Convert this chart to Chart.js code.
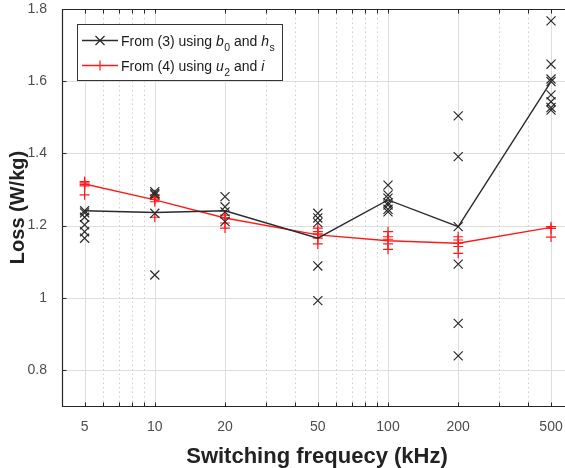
<!DOCTYPE html>
<html>
<head>
<meta charset="utf-8">
<script src="https://cdn.jsdelivr.net/npm/chart.js@4/dist/chart.umd.min.js"></script>
<style>
  html, body { margin: 0; padding: 0; background: #fff; }
  #wrap { width: 565px; height: 468px; position: relative; }
</style>
</head>
<body>
<div id="wrap"><canvas id="c" width="565" height="468"></canvas></div>
<script>
// ---- data ----
const freqs = [5, 10, 20, 50, 100, 200, 500];          // kHz
const xTickLabels = ['5', '10', '20', '50', '100', '200', '500'];
const xMinorGrid = [6, 7, 8, 9, 30, 40, 60, 70, 80, 90, 300, 400];
const yTicks = [0.8, 1, 1.2, 1.4, 1.6, 1.8];
const xTitle = 'Switching frequecy (kHz)';
const yTitle = 'Loss (W/kg)';

// Line through the estimates, from (3) using b0 and hs (black)
const blackLine = [1.241, 1.236, 1.241, 1.165, 1.271, 1.197, 1.599];
// Line through the estimates, from (4) using u2 and i (red)
const redLine = [1.315, 1.271, 1.221, 1.174, 1.158, 1.151, 1.195];

// individual black "x" markers per frequency
const black5 = [1.241, 1.235, 1.223, 1.202, 1.183, 1.165];
const black10 = [1.294, 1.289, 1.285, 1.234, 1.063];
const black20 = [1.280, 1.252, 1.238, 1.211];
const black50 = [1.234, 1.221, 1.208, 1.088, 0.992];
const black100 = [1.312, 1.285, 1.276, 1.263, 1.257, 1.245, 1.238];
const black200 = [1.504, 1.391, 1.197, 1.093, 0.929, 0.839];
const black500 = [1.767, 1.647, 1.606, 1.599, 1.562, 1.543, 1.527, 1.520];

// individual red "+" markers per frequency
const red5 = [1.322, 1.318, 1.314, 1.310, 1.285];
const red10 = [1.285, 1.278, 1.273, 1.266, 1.223];
const red20 = [1.229, 1.221, 1.207, 1.193];
const red50 = [1.193, 1.183, 1.177, 1.165, 1.149];
const red100 = [1.183, 1.169, 1.162, 1.149, 1.134];
const red200 = [1.169, 1.160, 1.151, 1.142, 1.123];
const red500 = [1.197, 1.192, 1.168];

const blackSets = [black5, black10, black20, black50, black100, black200, black500];
const redSets = [red5, red10, red20, red50, red100, red200, red500];

function pts(sets) {
  const out = [];
  sets.forEach((arr, i) => arr.forEach(v => out.push({ x: freqs[i], y: v })));
  return out;
}
function linePts(vals) { return vals.map((v, i) => ({ x: freqs[i], y: v })); }

const FONT = "'Liberation Sans', Arial, Helvetica, sans-serif";
Chart.defaults.font.family = FONT;

const BLACK = '#2b2b2b';
const RED = '#ff1a1a';
const AXIS = '#262626';

function noPad(s) { s.paddingLeft = 0; s.paddingRight = 0; s.paddingTop = 0; s.paddingBottom = 0; }

const framePlugin = {
  id: 'frame',
  beforeDatasetsDraw(chart) {
    const { ctx, chartArea: a, scales: { x, y } } = chart;
    ctx.save();
    ctx.beginPath();
    ctx.rect(a.left, a.top, a.right - a.left, a.bottom - a.top);
    ctx.clip();
    ctx.lineWidth = 1;
    ctx.strokeStyle = '#dedede';
    ctx.setLineDash([]);
    freqs.forEach(f => {
      const px = Math.round(x.getPixelForValue(f)) + 0.5;
      ctx.beginPath(); ctx.moveTo(px, a.top); ctx.lineTo(px, a.bottom); ctx.stroke();
    });
    yTicks.forEach(v => {
      const py = Math.round(y.getPixelForValue(v)) + 0.5;
      ctx.beginPath(); ctx.moveTo(a.left, py); ctx.lineTo(a.right, py); ctx.stroke();
    });
    ctx.strokeStyle = '#cfcfcf';
    ctx.setLineDash([1.5, 3]);
    xMinorGrid.forEach(f => {
      const px = Math.round(x.getPixelForValue(f)) + 0.5;
      ctx.beginPath(); ctx.moveTo(px, a.top); ctx.lineTo(px, a.bottom); ctx.stroke();
    });
    ctx.restore();
  },
  afterDatasetsDraw(chart) {
    const { ctx, chartArea: a, scales: { x, y } } = chart;
    ctx.save();
    ctx.setLineDash([]);
    ctx.strokeStyle = AXIS;
    ctx.lineWidth = 1.2;
    const L = Math.round(a.left) + 0.5, B = Math.round(a.bottom) + 0.5, T = Math.round(a.top) + 0.5;
    ctx.beginPath();
    ctx.moveTo(a.right, T); ctx.lineTo(L, T); ctx.lineTo(L, B); ctx.lineTo(a.right, B);
    ctx.stroke();
    ctx.lineWidth = 1;
    const allX = freqs.concat(xMinorGrid);
    allX.forEach(f => {
      const px = Math.round(x.getPixelForValue(f)) + 0.5;
      ctx.beginPath(); ctx.moveTo(px, B); ctx.lineTo(px, B - 4); ctx.stroke();
      ctx.beginPath(); ctx.moveTo(px, T); ctx.lineTo(px, T + 4); ctx.stroke();
    });
    yTicks.forEach(v => {
      const py = Math.round(y.getPixelForValue(v)) + 0.5;
      ctx.beginPath(); ctx.moveTo(L, py); ctx.lineTo(L + 4, py); ctx.stroke();
    });

    // x axis title
    ctx.fillStyle = '#222';
    ctx.font = 'bold 22px ' + FONT;
    ctx.textAlign = 'center';
    ctx.textBaseline = 'alphabetic';
    ctx.fillText(xTitle, 317, 463);

    // ---- legend ----
    const bx = 77.5, by = 24.5, bw = 205, bh = 56;
    ctx.fillStyle = '#fff';
    ctx.fillRect(bx, by, bw, bh);
    ctx.strokeStyle = '#333';
    ctx.lineWidth = 1;
    ctx.strokeRect(bx, by, bw, bh);

    const rows = [
      { y: 40.5, color: BLACK, marker: 'x',
        parts: [['From (3) using ', 'n'], ['b', 'i'], ['0', 's'], [' and ', 'n'], ['h', 'i'], ['s', 's']] },
      { y: 65.5, color: RED, marker: '+',
        parts: [['From (4) using ', 'n'], ['u', 'i'], ['2', 's'], [' and ', 'n'], ['i', 'i']] }
    ];
    rows.forEach(r => {
      ctx.strokeStyle = r.color;
      ctx.lineWidth = 1.3;
      ctx.beginPath(); ctx.moveTo(82, r.y); ctx.lineTo(118, r.y); ctx.stroke();
      ctx.lineWidth = 1.2;
      ctx.beginPath();
      if (r.marker === 'x') {
        ctx.moveTo(100 - 4.5, r.y - 4.5); ctx.lineTo(100 + 4.5, r.y + 4.5);
        ctx.moveTo(100 + 4.5, r.y - 4.5); ctx.lineTo(100 - 4.5, r.y + 4.5);
      } else {
        ctx.moveTo(100, r.y - 5); ctx.lineTo(100, r.y + 5);
      }
      ctx.stroke();
      let tx = 121;
      const base = r.y + 5;
      ctx.fillStyle = '#1a1a1a';
      ctx.textBaseline = 'alphabetic';
      ctx.textAlign = 'left';
      r.parts.forEach(([txt, kind]) => {
        if (kind === 'n') { ctx.font = '14px ' + FONT; ctx.fillText(txt, tx, base); }
        else if (kind === 'i') { ctx.font = 'italic 14px ' + FONT; ctx.fillText(txt, tx, base); }
        else { ctx.font = '10.5px ' + FONT; ctx.fillText(txt, tx + 0.5, base + 5); tx += 0.5; }
        tx += ctx.measureText(txt).width;
      });
    });
    ctx.restore();
  }
};

new Chart(document.getElementById('c'), {
  type: 'scatter',
  data: {
    datasets: [
      { label: 'black markers', data: pts(blackSets), showLine: false,
        pointStyle: 'crossRot', pointRadius: 6.4, pointHoverRadius: 6.4,
        borderColor: BLACK, backgroundColor: BLACK, pointBorderWidth: 1.2, order: 1 },
      { label: 'From (3) using b0 and hs', data: linePts(blackLine), showLine: true,
        borderColor: BLACK, borderWidth: 1.4, pointRadius: 0, order: 2 },
      { label: 'red markers', data: pts(redSets), showLine: false,
        pointStyle: 'cross', pointRadius: 5, pointHoverRadius: 5,
        borderColor: RED, backgroundColor: RED, pointBorderWidth: 1.2, order: 3 },
      { label: 'From (4) using u2 and i', data: linePts(redLine), showLine: true,
        borderColor: RED, borderWidth: 1.4, pointRadius: 0, order: 4 }
    ]
  },
  options: {
    responsive: false,
    animation: false,
    devicePixelRatio: 1,
    layout: { autoPadding: false, padding: { left: 0, right: 0, top: 9, bottom: 0 } },
    plugins: { legend: { display: false }, tooltip: { enabled: false } },
    scales: {
      x: {
        type: 'logarithmic',
        min: 4, max: 574,
        afterBuildTicks(s) { s.ticks = freqs.map(v => ({ value: v })); },
        afterFit(s) { s.height = 62; noPad(s); },
        ticks: {
          autoSkip: false, maxRotation: 0, padding: 13,
          color: '#4d4d4d', font: { size: 14, family: FONT },
          callback(v) { const i = freqs.indexOf(v); return i >= 0 ? xTickLabels[i] : ''; }
        },
        grid: { display: false, drawTicks: false },
        border: { display: false },
        title: { display: false }
      },
      y: {
        type: 'linear',
        min: 0.7, max: 1.8,
        afterBuildTicks(s) { s.ticks = yTicks.map(v => ({ value: v })); },
        afterFit(s) { s.width = 62; noPad(s); },
        ticks: {
          padding: 15, color: '#4d4d4d', font: { size: 14, family: FONT },
          callback(v) { return String(Math.round(v * 10) / 10); }
        },
        grid: { display: false, drawTicks: false },
        border: { display: false },
        title: {
          display: true, text: yTitle, color: '#222',
          font: { size: 20, weight: 'bold', family: FONT, lineHeight: 1 },
          padding: { top: 8, bottom: 0 }
        }
      }
    }
  },
  plugins: [framePlugin]
});
</script>
</body>
</html>
